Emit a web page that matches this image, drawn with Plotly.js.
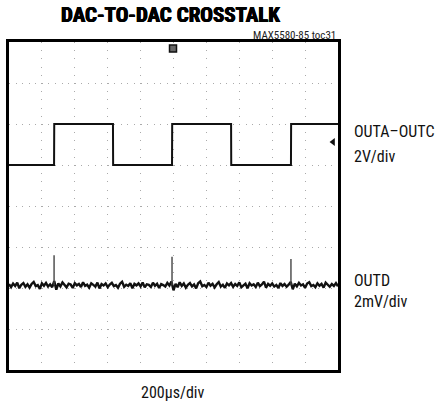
<!DOCTYPE html>
<html>
<head>
<meta charset="utf-8">
<script src="https://cdn.plot.ly/plotly-3.0.1.min.js"></script>
<style>html,body{margin:0;padding:0;background:#fff;}#chart{width:439px;height:402px;}</style>
</head>
<body>
<div id="chart"></div>
<script>
// ---- data ----
// OUTA–OUTC square wave: transition times (µs) and levels (V), 2V/div
const sqTimes = [0, 274, 275, 632, 633, 991, 992, 1350, 1351, 1714, 1715, 2000];
const sqVolts = [0, 0, 2, 2, 0, 0, 2, 2, 0, 0, 2, 2];
// OUTD crosstalk trace (mV), sampled every 12.5 µs from 0 to 2000 µs, 2mV/div
const outdStep = 12.5;
const outdMilliVolts = [
  0.05,-0.10,0.08,-0.04,0.12,-0.15,0.02,0.10,-0.08,0.04,
  -0.12,0.06,0.15,-0.05,0.00,-0.18,0.09,-0.03,0.11,-0.07,
  0.04,-0.10,0.20,-0.22,0.08,-0.06,0.13,-0.02,-0.11,0.07,
  0.03,-0.14,0.10,-0.01,0.06,-0.09,0.14,-0.04,0.02,-0.12,
  0.09,0.01,-0.07,0.12,-0.16,0.05,-0.02,0.08,-0.10,0.03,
  0.11,-0.05,0.00,-0.13,0.07,0.16,-0.08,0.02,-0.04,0.10,
  -0.15,0.06,-0.01,0.09,-0.06,0.13,-0.11,0.04,0.01,-0.09,
  0.12,-0.03,0.07,-0.14,0.05,0.00,-0.07,0.11,-0.02,0.18,
  -0.25,0.06,-0.10,0.14,-0.04,0.08,-0.12,0.02,0.10,-0.06,
  0.03,-0.16,0.09,0.18,-0.05,0.01,-0.09,0.12,-0.03,0.06,
  -0.11,0.04,0.15,-0.07,0.02,-0.13,0.08,-0.01,0.10,-0.08,
  0.05,-0.04,0.13,-0.10,0.00,0.07,-0.15,0.09,-0.02,0.04,
  -0.09,0.12,-0.05,0.03,0.17,-0.12,0.06,-0.03,0.08,-0.07,
  0.01,-0.14,0.10,-0.04,0.05,-0.08,0.02,0.16,-0.20,0.07,
  -0.06,0.11,-0.02,0.04,-0.13,0.08,0.14,-0.05,0.01,-0.10,
  0.09,-0.03,0.06,-0.12,0.12,0.00,-0.08,0.05,-0.04,0.10,
  -0.06
];
// OUTD glitches at each OUTA–OUTC rising edge: time (µs), peak (mV)
const glitchTimes = [274, 991, 1714];
const glitchPeakMv = [1.46, 1.38, 1.28];
// screen settings
const sqVoltsPerDiv = 2, sqOffsetDiv = 5;
const outdMvPerDiv = 2, outdOffsetDiv = 2.07;
const triggerTime = 997;
const gndMarkerTime = 1970, gndMarkerDiv = 5.56;

const labelFont = "'Liberation Sans Narrow','Arial Narrow','Roboto Condensed','Liberation Sans',sans-serif";

const outdTimes = outdMilliVolts.map((_, i) => i * outdStep);
const gx = [], gy = [];
glitchTimes.forEach((t, i) => {
  gx.push(t, t, null);
  gy.push(outdOffsetDiv, outdOffsetDiv + glitchPeakMv[i] / outdMvPerDiv, null);
});

const traces = [
  {x: sqTimes, y: sqVolts.map(v => sqOffsetDiv + v / sqVoltsPerDiv), mode: 'lines',
   line: {color: '#111', width: 2}, hoverinfo: 'skip'},
  {x: outdTimes, y: outdMilliVolts.map(v => outdOffsetDiv + v / outdMvPerDiv), mode: 'lines',
   line: {color: '#111', width: 2.4}, hoverinfo: 'skip'},
  {x: gx, y: gy, mode: 'lines', connectgaps: false,
   line: {color: '#444', width: 1.4}, hoverinfo: 'skip'},
  {x: [triggerTime], y: [7.84], mode: 'markers', cliponaxis: false,
   marker: {symbol: 'square', size: 7, color: '#666', line: {color: '#111', width: 1.5}}, hoverinfo: 'skip'},
  {x: [gndMarkerTime], y: [gndMarkerDiv], mode: 'markers',
   marker: {symbol: 'triangle-left', size: 7, color: '#111'}, hoverinfo: 'skip'}
];

const layout = {
  width: 439, height: 402,
  margin: {l: 9, r: 101, t: 42, b: 32},
  paper_bgcolor: '#fff', plot_bgcolor: '#fff',
  showlegend: false,
  xaxis: {range: [0, 2000], dtick: 200, tick0: 0, showticklabels: false, ticks: '',
    showgrid: true, gridcolor: '#aaa', gridwidth: 1, griddash: '1px,7.2px',
    zeroline: false, showline: true, mirror: true, linecolor: '#000', linewidth: 3, fixedrange: true},
  yaxis: {range: [0, 8], dtick: 1, tick0: 0, showticklabels: false, ticks: '',
    showgrid: true, gridcolor: '#aaa', gridwidth: 1, griddash: '1px,5.58px',
    zeroline: false, showline: true, mirror: true, linecolor: '#000', linewidth: 3, fixedrange: true},
  annotations: [
    {text: '<b>DAC-TO-DAC CROSSTALK</b>', xref: 'paper', yref: 'paper', x: (170 - 9) / 329, y: 1 + (42 - 15.5) / 328,
     xanchor: 'center', yanchor: 'middle', showarrow: false,
     font: {family: labelFont, size: 21, color: '#000', shadow: '0.5px 0 0 #000, -0.5px 0 0 #000, 0 0.4px 0 #000'}},
    {text: 'MAX5580-85 toc31', xref: 'paper', yref: 'paper', x: 1, y: 1 + (42 - 35) / 328,
     xanchor: 'right', yanchor: 'middle', showarrow: false,
     font: {family: labelFont, size: 11, color: '#222'}},
    {text: 'OUTA–OUTC', xref: 'paper', yref: 'paper', x: (352 - 9) / 329, y: (370 - 131.5) / 328,
     xanchor: 'left', yanchor: 'middle', showarrow: false,
     font: {family: labelFont, size: 16, color: '#111'}},
    {text: '2V/div', xref: 'paper', yref: 'paper', x: (352 - 9) / 329, y: (370 - 156.5) / 328,
     xanchor: 'left', yanchor: 'middle', showarrow: false,
     font: {family: labelFont, size: 16, color: '#111'}},
    {text: 'OUTD', xref: 'paper', yref: 'paper', x: (352 - 9) / 329, y: (370 - 280) / 328,
     xanchor: 'left', yanchor: 'middle', showarrow: false,
     font: {family: labelFont, size: 16, color: '#111'}},
    {text: '2mV/div', xref: 'paper', yref: 'paper', x: (352 - 9) / 329, y: (370 - 301) / 328,
     xanchor: 'left', yanchor: 'middle', showarrow: false,
     font: {family: labelFont, size: 16, color: '#111'}},
    {text: '200µs/div', xref: 'paper', yref: 'paper', x: (173 - 9) / 329, y: (370 - 392) / 328,
     xanchor: 'center', yanchor: 'middle', showarrow: false,
     font: {family: labelFont, size: 16, color: '#111'}}
  ]
};

Plotly.newPlot('chart', traces, layout, {staticPlot: true, displayModeBar: false});
</script>
</body>
</html>
